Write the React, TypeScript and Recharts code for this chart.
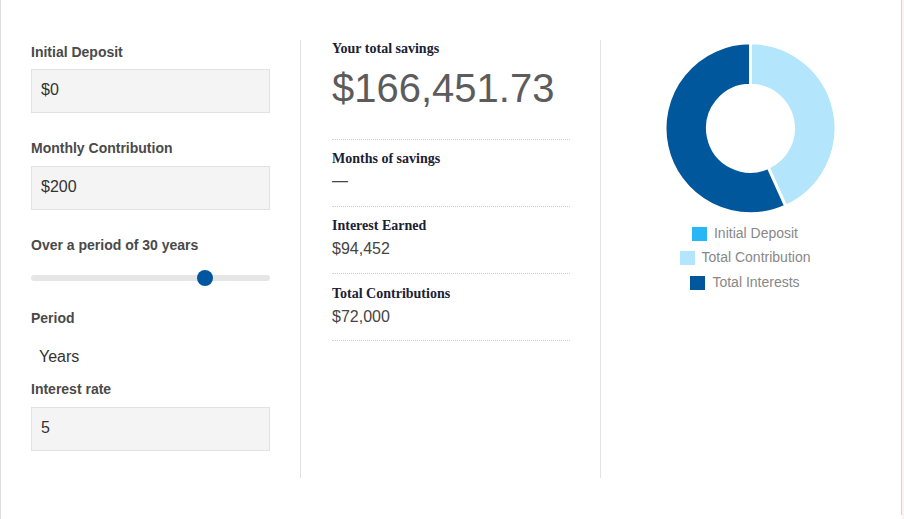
import React from "react";
import { PieChart, Pie, Cell, Legend } from "recharts";

// calculator inputs
const initialDeposit = 0;
const monthlyContribution = 200;
const periodYears = 30;
const periodUnit = "Years";
const interestRate = 5;
const sliderMin = 1;
const sliderMax = 40;

// results
const totalSavings = 166451.73;
const interestEarned = 94452;
const totalContributions = 72000;

// donut
const sliceNames = ["Initial Deposit", "Total Contribution", "Total Interests"];
const sliceValues = [initialDeposit, totalContributions, interestEarned];
const sliceColors = ["#29b6f6", "#b3e5fc", "#01579b"];

const pieData = sliceNames.map((name, i) => ({
  name,
  value: sliceValues[i],
  color: sliceColors[i],
}));

const SANS = "'Liberation Sans', Arial, Helvetica, sans-serif";
const SERIF = "'Liberation Serif', 'Times New Roman', serif";

const money = (v: number, digits = 0) =>
  "$" +
  v.toLocaleString("en-US", {
    minimumFractionDigits: digits,
    maximumFractionDigits: digits,
  });

// text placed by its baseline
const Txt = ({ x, base, size, font = SANS, weight = 400, color = "#444", children }: any) => {
  const k = font === SERIF ? 0.8375 : 0.8465;
  return (
    <div
      style={{
        position: "absolute",
        left: x,
        top: base - k * size,
        fontSize: size,
        lineHeight: `${size}px`,
        fontFamily: font,
        fontWeight: weight,
        color,
        whiteSpace: "nowrap",
      }}
    >
      {children}
    </div>
  );
};

const InputBox = ({ top, value }: { top: number; value: string }) => (
  <>
    <div
      style={{
        position: "absolute",
        left: 31,
        top,
        width: 237,
        height: 42,
        background: "#f4f4f4",
        border: "1px solid #e2e2e2",
      }}
    />
    <Txt x={41} base={top + 27} size={16} color="#333">
      {value}
    </Txt>
  </>
);

const Dotted = ({ top }: { top: number }) => (
  <div
    style={{
      position: "absolute",
      left: 332,
      top,
      width: 238,
      borderTop: "1px dotted #cfcfcf",
    }}
  />
);

const renderLegend = (props: any) => {
  const { payload } = props;
  return (
    <ul style={{ listStyle: "none", margin: 0, padding: 0, textAlign: "center" }}>
      {payload.map((entry: any) => (
        <li
          key={entry.value}
          style={{ lineHeight: "24.5px", height: 24.5, fontFamily: SANS, fontSize: 14 }}
        >
          <span
            style={{
              display: "inline-block",
              width: 15,
              height: 14,
              background: entry.color,
              verticalAlign: "middle",
              marginRight: 7,
            }}
          />
          <span style={{ color: "#888", verticalAlign: "baseline" }}>{entry.value}</span>
        </li>
      ))}
    </ul>
  );
};

export default function App() {
  const trackLeft = 31;
  const trackWidth = 239;
  const thumbR = 8;
  const thumbX =
    trackLeft +
    thumbR +
    ((periodYears - sliderMin) / (sliderMax - sliderMin)) * (trackWidth - 2 * thumbR);

  const labelColor = "#4a4a4a";

  return (
    <div
      style={{
        position: "absolute",
        left: 0,
        top: 0,
        width: 904,
        height: 519,
        background: "#fff",
        overflow: "hidden",
      }}
    >
      {/* frame */}
      <div style={{ position: "absolute", left: 0, top: 0, width: 1, height: 519, background: "#dcdcdc" }} />
      <div style={{ position: "absolute", left: 901, top: 0, width: 1, height: 515, background: "#d6d2d0" }} />
      <div style={{ position: "absolute", left: 902, top: 0, width: 2, height: 519, background: "#fdf4ef" }} />

      {/* column separators */}
      <div style={{ position: "absolute", left: 300, top: 40, width: 1, height: 438, background: "#e2e2e2" }} />
      <div style={{ position: "absolute", left: 600, top: 40, width: 1, height: 438, background: "#e2e2e2" }} />

      {/* left column */}
      <Txt x={31} base={56.7} size={14} weight={700} color={labelColor}>Initial Deposit</Txt>
      <InputBox top={69} value={money(initialDeposit)} />
      <Txt x={31} base={153.3} size={14} weight={700} color={labelColor}>Monthly Contribution</Txt>
      <InputBox top={166} value={money(monthlyContribution)} />
      <Txt x={31} base={250} size={14} weight={700} color={labelColor}>
        Over a period of {periodYears} years
      </Txt>
      <div
        style={{
          position: "absolute",
          left: trackLeft,
          top: 274.5,
          width: trackWidth,
          height: 6,
          borderRadius: 3,
          background: "#e6e6e6",
        }}
      />
      <div
        style={{
          position: "absolute",
          left: thumbX - thumbR,
          top: 277.7 - thumbR,
          width: thumbR * 2,
          height: thumbR * 2,
          borderRadius: "50%",
          background: "#0057a0",
        }}
      />
      <Txt x={31} base={323.3} size={14} weight={700} color={labelColor}>Period</Txt>
      <Txt x={39} base={362.7} size={16} color="#333">{periodUnit}</Txt>
      <Txt x={31} base={394} size={14} weight={700} color={labelColor}>Interest rate</Txt>
      <InputBox top={407} value={String(interestRate)} />

      {/* middle column */}
      <Txt x={332} base={54} size={14} font={SERIF} weight={700} color="#1b2133">Your total savings</Txt>
      <Txt x={332} base={101.5} size={40} color="#5c5c5c">{money(totalSavings, 2)}</Txt>
      <Dotted top={139} />
      <Txt x={332} base={164} size={14} font={SERIF} weight={700} color="#1b2133">Months of savings</Txt>
      <Txt x={332} base={186.5} size={16} color="#444">—</Txt>
      <Dotted top={206} />
      <Txt x={332} base={230.7} size={14} font={SERIF} weight={700} color="#1b2133">Interest Earned</Txt>
      <Txt x={332} base={255} size={16} color="#444">{money(interestEarned)}</Txt>
      <Dotted top={273} />
      <Txt x={332} base={298.3} size={14} font={SERIF} weight={700} color="#1b2133">Total Contributions</Txt>
      <Txt x={332} base={322.7} size={16} color="#444">{money(totalContributions)}</Txt>
      <Dotted top={340} />

      {/* donut */}
      <div style={{ position: "absolute", left: 600, top: 30 }}>
        <PieChart width={300} height={300} margin={{ top: 0, right: 0, bottom: 0, left: 0 }}>
          <Pie
            data={pieData}
            dataKey="value"
            nameKey="name"
            cx={150.5}
            cy={98.3}
            innerRadius={43}
            outerRadius={85.5}
            startAngle={90}
            endAngle={-270}
            stroke="#fff"
            strokeWidth={3}
            isAnimationActive={false}
          >
            {pieData.map((d) => (
              <Cell key={d.name} fill={d.color} />
            ))}
          </Pie>
          <Legend
            layout="vertical"
            verticalAlign="bottom"
            align="center"
            content={renderLegend}
            wrapperStyle={{ top: 190.6, left: -5, width: 300, bottom: "auto" }}
          />
        </PieChart>
      </div>
    </div>
  );
}
